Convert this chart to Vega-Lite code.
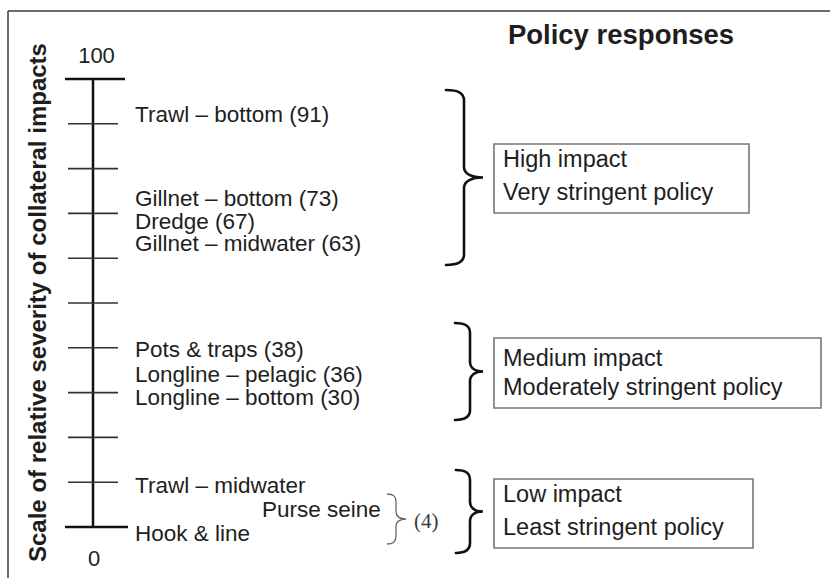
{
  "$schema": "https://vega.github.io/schema/vega-lite/v6.json",
  "width": 830,
  "height": 578,
  "padding": 0,
  "autosize": {"type": "none"},
  "background": "white",
  "config": {"view": {"stroke": null}, "text": {"font": "Liberation Sans", "color": "#1e1e1e"}},
  "encoding": {
    "x": {"field": "x", "type": "quantitative", "scale": {"domain": [0, 830], "nice": false, "zero": false}, "axis": null},
    "y": {"field": "y", "type": "quantitative", "scale": {"domain": [-11.38, 117.63], "nice": false, "zero": false}, "axis": null}
  },
  "layer": [
    {
      "data": {"values": [
        {"x": 8, "x2": 830, "y": 115.18, "y2": 115.18},
        {"x": 8, "x2": 8, "y": 115.18, "y2": -11.38}
      ]},
      "mark": {"type": "rule", "stroke": "#3a3a3a", "strokeWidth": 1.5},
      "encoding": {"x2": {"field": "x2"}, "y2": {"field": "y2"}}
    },
    {
      "data": {"values": [
        {"x": 93, "x2": 93, "y": 0, "y2": 100},
        {"x": 65, "x2": 125, "y": 100, "y2": 100},
        {"x": 65, "x2": 128, "y": 0, "y2": 0}
      ]},
      "mark": {"type": "rule", "stroke": "#111111", "strokeWidth": 2.5},
      "encoding": {"x2": {"field": "x2"}, "y2": {"field": "y2"}}
    },
    {
      "data": {"values": [
        {"x": 68, "x2": 118, "y": 10, "y2": 10},
        {"x": 68, "x2": 118, "y": 20, "y2": 20},
        {"x": 68, "x2": 118, "y": 30, "y2": 30},
        {"x": 68, "x2": 118, "y": 40, "y2": 40},
        {"x": 68, "x2": 118, "y": 50, "y2": 50},
        {"x": 68, "x2": 118, "y": 60, "y2": 60},
        {"x": 68, "x2": 118, "y": 70, "y2": 70},
        {"x": 68, "x2": 118, "y": 80, "y2": 80},
        {"x": 68, "x2": 118, "y": 90, "y2": 90}
      ]},
      "mark": {"type": "rule", "stroke": "#333333", "strokeWidth": 1.6},
      "encoding": {"x2": {"field": "x2"}, "y2": {"field": "y2"}}
    },
    {
      "data": {"values": [
        {"x": 96.5, "y": 103.5, "label": "100"},
        {"x": 94, "y": -8.7, "label": "0"}
      ]},
      "mark": {"type": "text", "align": "center", "baseline": "alphabetic", "fontSize": 22},
      "encoding": {"text": {"field": "label"}}
    },
    {
      "data": {"values": [
        {"label": "Trawl – bottom (91)", "score": 91, "x": 135, "y": 90.29},
        {"label": "Gillnet – bottom (73)", "score": 73, "x": 135, "y": 71.7},
        {"label": "Dredge (67)", "score": 67, "x": 135, "y": 66.61},
        {"label": "Gillnet – midwater (63)", "score": 63, "x": 135, "y": 61.52},
        {"label": "Pots & traps (38)", "score": 38, "x": 135, "y": 37.88},
        {"label": "Longline – pelagic (36)", "score": 36, "x": 135, "y": 32.43},
        {"label": "Longline – bottom (30)", "score": 30, "x": 135, "y": 27.23},
        {"label": "Trawl – midwater", "score": 4, "x": 135, "y": 7.52},
        {"label": "Purse seine", "score": 4, "x": 262, "y": 2.3},
        {"label": "Hook & line", "score": 4, "x": 135, "y": -3.13}
      ]},
      "mark": {"type": "text", "align": "left", "baseline": "alphabetic", "fontSize": 22.5},
      "encoding": {"text": {"field": "label"}}
    },
    {
      "data": {"values": [
        {"group": "High", "x": 464, "y": 78.01, "span": 39.06},
        {"group": "Medium", "x": 470, "y": 34.71, "span": 21.65},
        {"group": "Low", "x": 470, "y": 3.46, "span": 18.53}
      ]},
      "mark": {"type": "point", "filled": false, "stroke": "#111111", "strokeWidth": 2.6, "opacity": 1, "strokeCap": "round"},
      "encoding": {
        "shape": {"field": "group", "type": "nominal", "legend": null,
          "scale": {"domain": ["High", "Medium", "Low", "Purse"],
            "range": [
              "M -0.206 -1 C -0.06 -1 0 -0.96 0 -0.88 L 0 -0.12 C 0 -0.04 0.09 0 0.217 0 C 0.09 0 0 0.04 0 0.12 L 0 0.88 C 0 0.96 -0.06 1 -0.206 1",
              "M -0.31 -1 C -0.09 -1 0 -0.93 0 -0.8 L 0 -0.2 C 0 -0.07 0.11 0 0.27 0 C 0.11 0 0 0.07 0 0.2 L 0 0.8 C 0 0.93 -0.09 1 -0.31 1",
              "M -0.34 -1 C -0.1 -1 0 -0.92 0 -0.76 L 0 -0.24 C 0 -0.08 0.12 0 0.31 0 C 0.12 0 0 0.08 0 0.24 L 0 0.76 C 0 0.92 -0.1 1 -0.34 1",
              "M -0.36 -1 C -0.1 -1 0 -0.9 0 -0.7 L 0 -0.3 C 0 -0.1 0.16 0 0.4 0 C 0.16 0 0 0.1 0 0.3 L 0 0.7 C 0 0.9 -0.1 1 -0.36 1"
            ]}},
        "size": {"field": "span", "type": "quantitative", "legend": null,
          "scale": {"type": "pow", "exponent": 2, "domain": [0, 100], "range": [0, 200704]}}
      }
    },
    {
      "data": {"values": [
        {"group": "Purse", "x": 396, "y": 1.79, "span": 11.16}
      ]},
      "mark": {"type": "point", "filled": false, "stroke": "#6a6a6a", "strokeWidth": 1.3, "opacity": 1},
      "encoding": {
        "shape": {"field": "group", "type": "nominal", "legend": null,
          "scale": {"domain": ["High", "Medium", "Low", "Purse"],
            "range": [
              "M -0.206 -1 C -0.06 -1 0 -0.96 0 -0.88 L 0 -0.12 C 0 -0.04 0.09 0 0.217 0 C 0.09 0 0 0.04 0 0.12 L 0 0.88 C 0 0.96 -0.06 1 -0.206 1",
              "M -0.31 -1 C -0.09 -1 0 -0.93 0 -0.8 L 0 -0.2 C 0 -0.07 0.11 0 0.27 0 C 0.11 0 0 0.07 0 0.2 L 0 0.8 C 0 0.93 -0.09 1 -0.31 1",
              "M -0.34 -1 C -0.1 -1 0 -0.92 0 -0.76 L 0 -0.24 C 0 -0.08 0.12 0 0.31 0 C 0.12 0 0 0.08 0 0.24 L 0 0.76 C 0 0.92 -0.1 1 -0.34 1",
              "M -0.36 -1 C -0.1 -1 0 -0.9 0 -0.7 L 0 -0.3 C 0 -0.1 0.16 0 0.4 0 C 0.16 0 0 0.1 0 0.3 L 0 0.7 C 0 0.9 -0.1 1 -0.36 1"
            ]}},
        "size": {"field": "span", "type": "quantitative", "legend": null,
          "scale": {"type": "pow", "exponent": 2, "domain": [0, 100], "range": [0, 200704]}}
      }
    },
    {
      "data": {"values": [
        {"x": 414, "y": -0.22, "label": "(4)"}
      ]},
      "mark": {"type": "text", "align": "left", "baseline": "alphabetic", "font": "Liberation Serif", "fontSize": 21, "color": "#3a3a3a"},
      "encoding": {"text": {"field": "label"}}
    },
    {
      "data": {"values": [
        {"level": "High", "x": 494, "x2": 749, "y": 85.49, "y2": 70.09},
        {"level": "Medium", "x": 494, "x2": 821, "y": 42.19, "y2": 26.56},
        {"level": "Low", "x": 494, "x2": 753, "y": 10.71, "y2": -4.69}
      ]},
      "mark": {"type": "rect", "fill": "white", "stroke": "#777777", "strokeWidth": 1.6},
      "encoding": {"x2": {"field": "x2"}, "y2": {"field": "y2"}}
    },
    {
      "data": {"values": [
        {"label": "High impact", "x": 503, "y": 80.36},
        {"label": "Very stringent policy", "x": 503, "y": 72.99},
        {"label": "Medium impact", "x": 503, "y": 35.94},
        {"label": "Moderately stringent policy", "x": 503, "y": 29.46},
        {"label": "Low impact", "x": 503, "y": 5.51},
        {"label": "Least stringent policy", "x": 503, "y": -1.79}
      ]},
      "mark": {"type": "text", "align": "left", "baseline": "alphabetic", "fontSize": 23.5},
      "encoding": {"text": {"field": "label"}}
    },
    {
      "data": {"values": [
        {"label": "Policy responses", "x": 621, "y": 107.81}
      ]},
      "mark": {"type": "text", "align": "center", "baseline": "alphabetic", "fontSize": 27.5, "fontWeight": "bold"},
      "encoding": {"text": {"field": "label"}}
    },
    {
      "data": {"values": [
        {"label": "Scale of relative severity of collateral impacts", "x": 46, "y": 50.1}
      ]},
      "mark": {"type": "text", "align": "center", "baseline": "alphabetic", "angle": 270, "fontSize": 24, "fontWeight": "bold"},
      "encoding": {"text": {"field": "label"}}
    }
  ]
}
